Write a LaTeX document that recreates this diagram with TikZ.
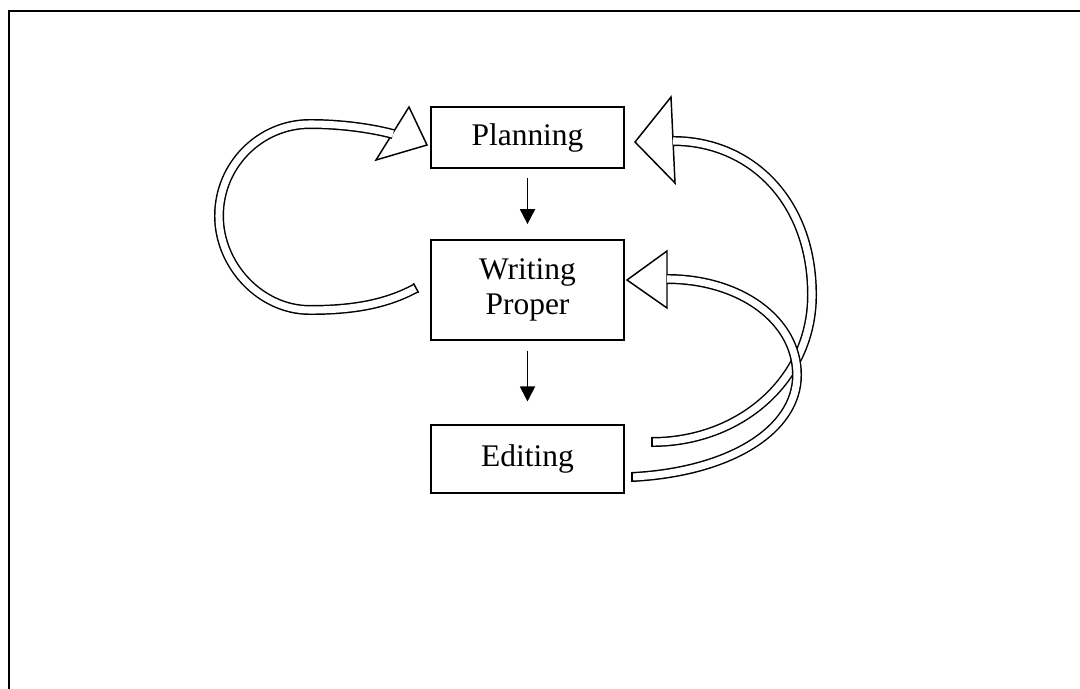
\documentclass[tikz,border=0pt]{standalone}
\usepackage{fontspec}
\setmainfont{Liberation Serif}
\usetikzlibrary{arrows.meta}
\begin{document}
\begin{tikzpicture}[x=0.75pt,y=-0.75pt,
  box/.style={draw, line width=1.3pt, minimum width=144.75pt, inner sep=0pt,
    font=\fontsize{23.6}{26.3}\selectfont, align=center},
  flow/.style={line width=1.4pt, -{Triangle[length=11.25pt,width=11.25pt]}},
  shaft/.style={draw=black, line width=1.1pt, double=white, double distance=5.3pt},
  head/.style={draw=black, fill=white, line width=1.1pt, line join=miter},
  capline/.style={line width=1.1pt}]
\useasboundingbox (0,0) rectangle (1080,688);
\draw[line width=1.8pt] (1090,11) -- (9,11) -- (9,700);

\node[box, minimum height=45.75pt] (P) at (527.5,137.5) {Planning};
\node[box, minimum height=75pt] (W) at (527.5,290) {Writing\\Proper};
\node[box, minimum height=51pt] (E) at (527.5,459) {Editing};

\draw[flow, shorten <=6.75pt, shorten >=11.25pt] (P.south) -- (W.north);
\draw[flow, shorten <=7.5pt, shorten >=17pt] (W.south) -- (E.north);

% left loop: Writing -> Planning
\draw[head] (409,107) -- (427,145) -- (376,160) -- cycle;
\draw[shaft] (416,288) .. controls (385,305) and (350,310) .. (310,310)
  .. controls (260,310) and (219,265) .. (219,216)
  .. controls (219,165) and (260,124) .. (310,124)
  .. controls (340,124) and (370,128) .. (393,134);
\draw[capline] (418.6,292.8) -- (413.4,283.2);

% right loop: Editing -> Planning
\draw[head] (671,97) -- (635,142) -- (675,183) -- cycle;
\draw[shaft] (652,442) .. controls (740,442) and (812,380) .. (812,295)
  .. controls (812,200) and (750,141) .. (673,141);
\draw[capline] (652,437) -- (652,447);

% right loop: Editing -> Writing
\draw[head] (667,251) -- (627,280) -- (667,308) -- cycle;
\draw[shaft] (632,477) .. controls (730,472) and (797,430) .. (797,375)
  .. controls (797,320) and (740,279) .. (667,279);
\draw[capline] (632,472) -- (632,482);
\end{tikzpicture}
\end{document}
